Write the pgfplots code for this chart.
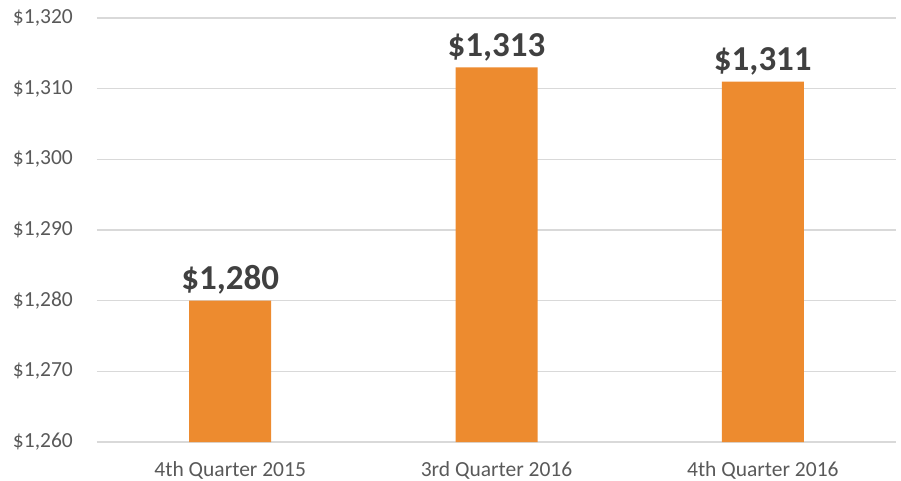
\documentclass[border=0pt]{standalone}
\usepackage{pgfplots}
\pgfplotsset{compat=1.18}
\usepackage{fontspec}
\setmainfont{Carlito}
\definecolor{barorange}{HTML}{ED8B2F}
\definecolor{txtgray}{HTML}{595959}
\definecolor{lblgray}{HTML}{404040}
\definecolor{gridgray}{HTML}{D9D9D9}
\begin{document}
\begin{tikzpicture}[x=1pt,y=1pt]
\begin{axis}[
  scale only axis,
  width=799pt, height=424pt,
  ymin=1260, ymax=1320,
  ytick distance=10,
  xmin=-0.5, xmax=2.5,
  xtick=data,
  xticklabels={4th Quarter 2015,3rd Quarter 2016,4th Quarter 2016},
  axis line style={draw=none},
  tick style={draw=none},
  ymajorgrids,
  grid style={gridgray, line width=1.2pt},
  yticklabel={\$\pgfmathprintnumber[assume math mode=true,fixed,precision=0,1000 sep={,}]{\tick}},
  yticklabel style={anchor=east, inner sep=0pt, xshift=-24pt, font=\fontsize{21.5}{25}\selectfont, text=txtgray},
  xticklabel style={anchor=north, inner sep=0pt, yshift=-15pt, font=\fontsize{21.5}{25}\selectfont, text=txtgray},
  ybar, bar width=82pt,
  nodes near coords={\$\pgfmathprintnumber[assume math mode=true,fixed,precision=0,1000 sep={,}]{\pgfplotspointmeta}},
  nodes near coords style={anchor=base, inner sep=0pt, yshift=11pt, font=\bfseries\fontsize{35}{40}\selectfont, text=lblgray},
  clip=false,
]
\addplot[fill=barorange, draw=none] coordinates {(0,1280) (1,1313) (2,1311)};
\coordinate (sw) at (rel axis cs:0,0);
\coordinate (ne) at (rel axis cs:1,1);
\end{axis}
\path ([shift={(-97pt,-38pt)}]sw) rectangle ([shift={(5pt,18pt)}]ne);
\end{tikzpicture}
\end{document}
